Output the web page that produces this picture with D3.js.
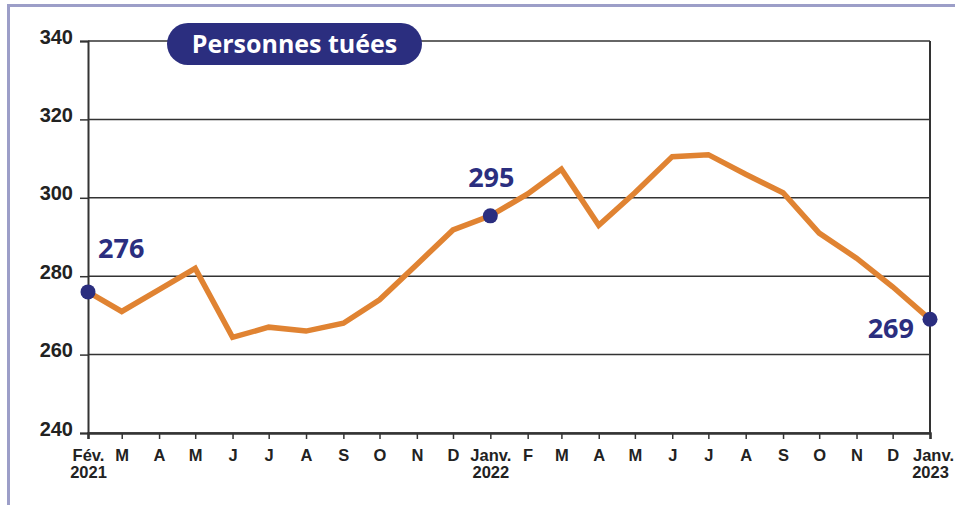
<!DOCTYPE html>
<html>
<head>
<meta charset="utf-8">
<script src="https://cdn.jsdelivr.net/npm/d3@7"></script>
<style>
	body { margin: 0; background: #fff; }
	svg { display: block; font-family: "Open Sans", sans-serif; }
	.axis text { font-weight: 700; fill: #222; }
	.axis path, .axis line { stroke: #333; }
</style>
</head>
<body>
<svg width="955" height="505"></svg>
<script>
// données mensuelles (personnes tuées, cumul sur 12 mois)
const mois = ["2021-02", "2021-03", "2021-04", "2021-05", "2021-06", "2021-07", "2021-08", "2021-09",
	"2021-10", "2021-11", "2021-12", "2022-01", "2022-02", "2022-03", "2022-04", "2022-05", "2022-06",
	"2022-07", "2022-08", "2022-09", "2022-10", "2022-11", "2022-12", "2023-01"];
const tues = [276, 271, 276.6, 282, 264.4, 267, 266, 268, 274, 283, 291.8, 295.4, 301, 307.3, 293,
	301.3, 310.5, 311, 306, 301.3, 291, 284.6, 277.3, 269];
const etiquettesMois = ["Fév.", "M", "A", "M", "J", "J", "A", "S", "O", "N", "D", "Janv.", "F",
	"M", "A", "M", "J", "J", "A", "S", "O", "N", "D", "Janv."];
const etiquettesAnnee = {0: "2021", 11: "2022", 23: "2023"};
const yTicks = [240, 260, 280, 300, 320, 340];
const pointsMarques = [
	{i: 0, texte: "276"},
	{i: 11, texte: "295"},
	{i: 23, texte: "269"}
];
const titre = "Personnes tuées";

const parse = d3.timeParse("%Y-%m");
const donnees = mois.map((m, i) => ({date: parse(m), valeur: tues[i]}));

const svg = d3.select("svg");
const margin = {top: 41, right: 25, bottom: 72, left: 88};
const width = 955 - margin.left - margin.right;
const height = 505 - margin.top - margin.bottom;

const bleu = "#2b2e7f";
const orange = "#e08332";

// cadre extérieur
svg.append("path")
	.attr("d", "M8.5,505 V5.5 H955")
	.attr("fill", "none")
	.attr("stroke", "#9c9ec8")
	.attr("stroke-width", 3);

const g = svg.append("g")
	.attr("transform", `translate(${margin.left},${margin.top})`);

const x = d3.scaleTime()
	.domain(d3.extent(donnees, d => d.date))
	.range([0, width]);

const y = d3.scaleLinear()
	.domain([240, 340])
	.range([height, 0]);

// lignes de grille
g.append("g")
	.selectAll("line")
	.data(yTicks)
	.join("line")
	.attr("x1", 0)
	.attr("x2", width)
	.attr("y1", d => y(d))
	.attr("y2", d => y(d))
	.attr("stroke", "#333")
	.attr("stroke-width", 1.5);

g.append("line")
	.attr("x1", width).attr("x2", width)
	.attr("y1", 0).attr("y2", height)
	.attr("stroke", "#333")
	.attr("stroke-width", 2);

// axe Y
const gY = g.append("g")
	.attr("class", "axis")
	.call(d3.axisLeft(y).tickValues(yTicks).tickSize(8).tickPadding(7));
gY.select(".domain").attr("stroke-width", 2);
gY.selectAll(".tick line").attr("stroke-width", 1.5);
gY.selectAll("text").attr("font-size", 20).attr("dy", "0.1em");

// axe X
const gX = g.append("g")
	.attr("class", "axis")
	.attr("transform", `translate(0,${height})`)
	.call(d3.axisBottom(x)
		.tickValues(donnees.map(d => d.date))
		.tickSize(6)
		.tickPadding(10)
		.tickFormat((d, i) => etiquettesMois[i]));
gX.select(".domain").attr("stroke-width", 2.5);
gX.selectAll(".tick line").attr("stroke-width", 1.5);
gX.selectAll(".tick text")
	.attr("font-size", 16.5)
	.each(function (d, i) {
		if (etiquettesAnnee[i]) {
			d3.select(this).append("tspan")
				.attr("x", 0)
				.attr("dy", "1.05em")
				.text(etiquettesAnnee[i]);
		}
	});
gX.selectAll(".tick text").filter((d, i) => i === 23).attr("dx", 3);

// courbe
const ligne = d3.line()
	.x(d => x(d.date))
	.y(d => y(d.valeur));

g.append("path")
	.datum(donnees)
	.attr("fill", "none")
	.attr("stroke", orange)
	.attr("stroke-width", 5.5)
	.attr("stroke-linejoin", "miter")
	.attr("d", ligne);

// points et étiquettes
const decalages = {0: {dx: 10, dy: -34, anchor: "start"}, 11: {dx: 1, dy: -29, anchor: "middle"}, 23: {dx: -16, dy: 19, anchor: "end"}};

g.selectAll(".point")
	.data(pointsMarques)
	.join("circle")
	.attr("class", "point")
	.attr("cx", d => x(donnees[d.i].date))
	.attr("cy", d => y(donnees[d.i].valeur))
	.attr("r", 7.5)
	.attr("fill", bleu);

g.selectAll(".etiquette")
	.data(pointsMarques)
	.join("text")
	.attr("class", "etiquette")
	.attr("x", d => x(donnees[d.i].date) + decalages[d.i].dx)
	.attr("y", d => y(donnees[d.i].valeur) + decalages[d.i].dy)
	.attr("text-anchor", d => decalages[d.i].anchor)
	.attr("font-size", 27)
	.attr("font-weight", 700)
	.attr("fill", bleu)
	.text(d => d.texte);

// titre
svg.append("rect")
	.attr("x", 167)
	.attr("y", 23)
	.attr("width", 255)
	.attr("height", 42)
	.attr("rx", 21)
	.attr("fill", bleu);

svg.append("text")
	.attr("x", 294.5)
	.attr("y", 53)
	.attr("text-anchor", "middle")
	.attr("font-size", 25)
	.attr("font-weight", 700)
	.attr("fill", "#fff")
	.text(titre);
</script>
</body>
</html>
